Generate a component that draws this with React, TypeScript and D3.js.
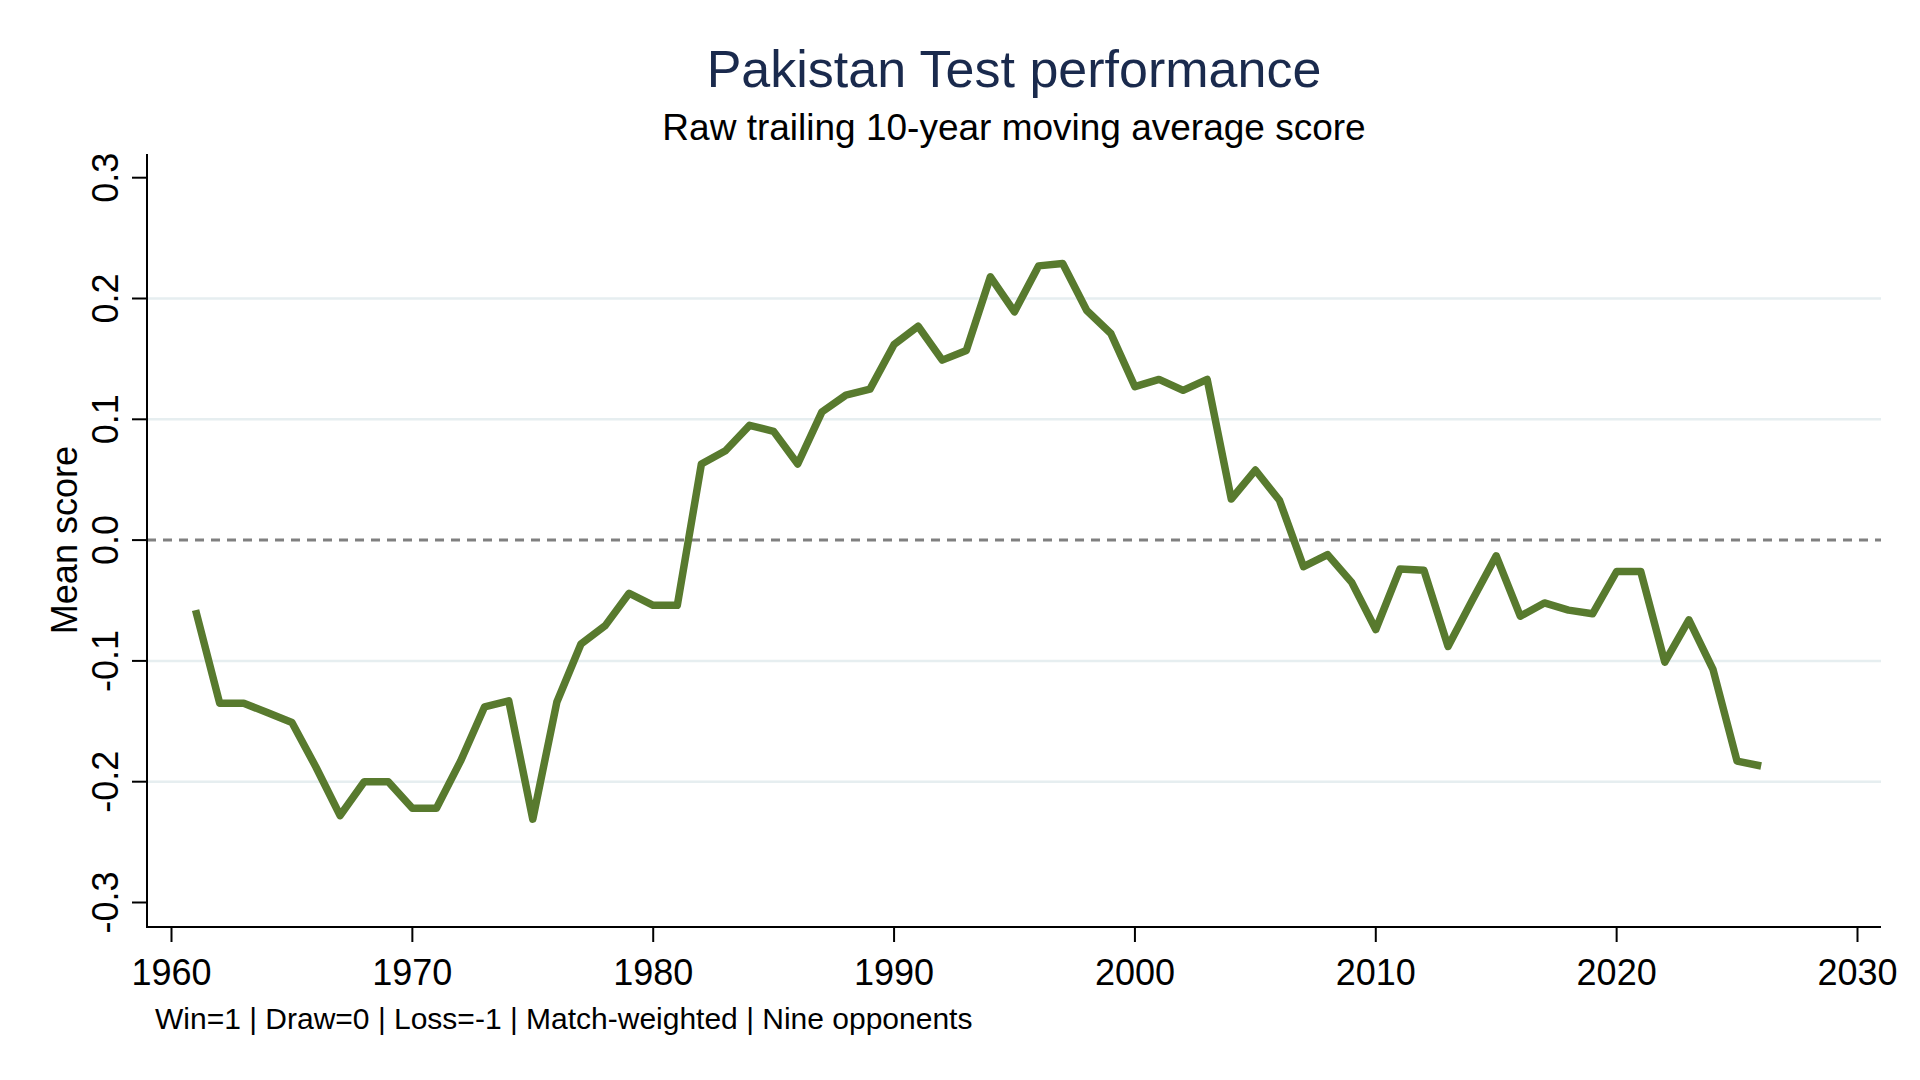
import * as d3 from "d3";

const years = [
  1961, 1962, 1963, 1964, 1965, 1966, 1967, 1968, 1969, 1970, 1971, 1972,
  1973, 1974, 1975, 1976, 1977, 1978, 1979, 1980, 1981, 1982, 1983, 1984,
  1985, 1986, 1987, 1988, 1989, 1990, 1991, 1992, 1993, 1994, 1995, 1996,
  1997, 1998, 1999, 2000, 2001, 2002, 2003, 2004, 2005, 2006, 2007, 2008,
  2009, 2010, 2011, 2012, 2013, 2014, 2015, 2016, 2017, 2018, 2019, 2020,
  2021, 2022, 2023, 2024, 2025, 2026,
];

const meanScore = [
  -0.058, -0.135, -0.135, -0.143, -0.151, -0.188, -0.228, -0.2, -0.2, -0.222,
  -0.222, -0.183, -0.138, -0.133, -0.231, -0.134, -0.086, -0.071, -0.044,
  -0.054, -0.054, 0.063, 0.074, 0.095, 0.09, 0.063, 0.106, 0.12, 0.125, 0.162,
  0.177, 0.149, 0.157, 0.218, 0.189, 0.227, 0.229, 0.19, 0.171, 0.127, 0.133,
  0.124, 0.133, 0.034, 0.058, 0.033, -0.022, -0.012, -0.035, -0.074, -0.024,
  -0.025, -0.088, -0.05, -0.013, -0.063, -0.052, -0.058, -0.061, -0.026,
  -0.026, -0.101, -0.066, -0.107, -0.183, -0.187,
];

const xTicks = [1960, 1970, 1980, 1990, 2000, 2010, 2020, 2030];
const yTicks = [-0.3, -0.2, -0.1, 0, 0.1, 0.2, 0.3];
const yTickLabels = ["-0.3", "-0.2", "-0.1", "0.0", "0.1", "0.2", "0.3"];
const gridValues = [-0.2, -0.1, 0.1, 0.2];

const title = "Pakistan Test performance";
const subtitle = "Raw trailing 10-year moving average score";
const yTitle = "Mean score";
const note = "Win=1 | Draw=0 | Loss=-1 | Match-weighted | Nine opponents";

const WIDTH = 1920;
const HEIGHT = 1080;
const FONT = "'Liberation Sans', Arial, Helvetica, sans-serif";

interface IPoint {
  year: number;
  score: number;
}

export default function App() {
  const data: IPoint[] = years.map((year, i) => ({ year, score: meanScore[i] }));

  // plot frame (axis lines)
  const left = 147;
  const right = 1881;
  const top = 154;
  const bottom = 927;

  const x = d3.scaleLinear().domain([1960, 2030]).range([171.5, 1857.5]);
  const y = d3.scaleLinear().domain([-0.3, 0.3]).range([902.5, 177.7]);

  const line = d3
    .line<IPoint>()
    .x((d) => x(d.year))
    .y((d) => y(d.score));

  const cx = (left + right) / 2;

  return (
    <svg
      width={WIDTH}
      height={HEIGHT}
      style={{ position: "absolute", left: 0, top: 0, background: "#fff" }}
      fontFamily={FONT}
    >
      <rect width={WIDTH} height={HEIGHT} fill="#fff" />

      {/* titles */}
      <text x={cx} y={87} textAnchor="middle" fontSize={52} fill="#1a2a4d">
        {title}
      </text>
      <text x={cx} y={140} textAnchor="middle" fontSize={37} fill="#000">
        {subtitle}
      </text>

      {/* grid */}
      <g>
        {gridValues.map((v) => (
          <line
            key={v}
            x1={left}
            x2={right}
            y1={y(v)}
            y2={y(v)}
            stroke="#e6eef0"
            strokeWidth={2.5}
          />
        ))}
        <line
          x1={left}
          x2={right}
          y1={y(0)}
          y2={y(0)}
          stroke="#808080"
          strokeWidth={3}
          strokeDasharray="9 7"
        />
      </g>

      {/* series */}
      <path
        d={line(data) ?? ""}
        fill="none"
        stroke="#587a2e"
        strokeWidth={7.5}
        strokeLinejoin="round"
        strokeLinecap="butt"
      />

      {/* y axis */}
      <g>
        <line x1={left} x2={left} y1={top} y2={bottom + 1} stroke="#000" strokeWidth={2} />
        {yTicks.map((t, i) => (
          <g key={t}>
            <line x1={left - 15} x2={left} y1={y(t)} y2={y(t)} stroke="#000" strokeWidth={2} />
            <text
              transform={`translate(118,${y(t)}) rotate(-90)`}
              textAnchor="middle"
              fontSize={36}
              fill="#000"
            >
              {yTickLabels[i]}
            </text>
          </g>
        ))}
        <text
          transform={`translate(77,${y(0)}) rotate(-90)`}
          textAnchor="middle"
          fontSize={36}
          fill="#000"
        >
          {yTitle}
        </text>
      </g>

      {/* x axis */}
      <g>
        <line x1={left - 1} x2={right} y1={bottom} y2={bottom} stroke="#000" strokeWidth={2} />
        {xTicks.map((t) => (
          <g key={t}>
            <line x1={x(t)} x2={x(t)} y1={bottom} y2={bottom + 15} stroke="#000" strokeWidth={2} />
            <text x={x(t)} y={985} textAnchor="middle" fontSize={36} fill="#000">
              {t}
            </text>
          </g>
        ))}
      </g>

      <text x={155} y={1029} fontSize={30} fill="#000">
        {note}
      </text>
    </svg>
  );
}
